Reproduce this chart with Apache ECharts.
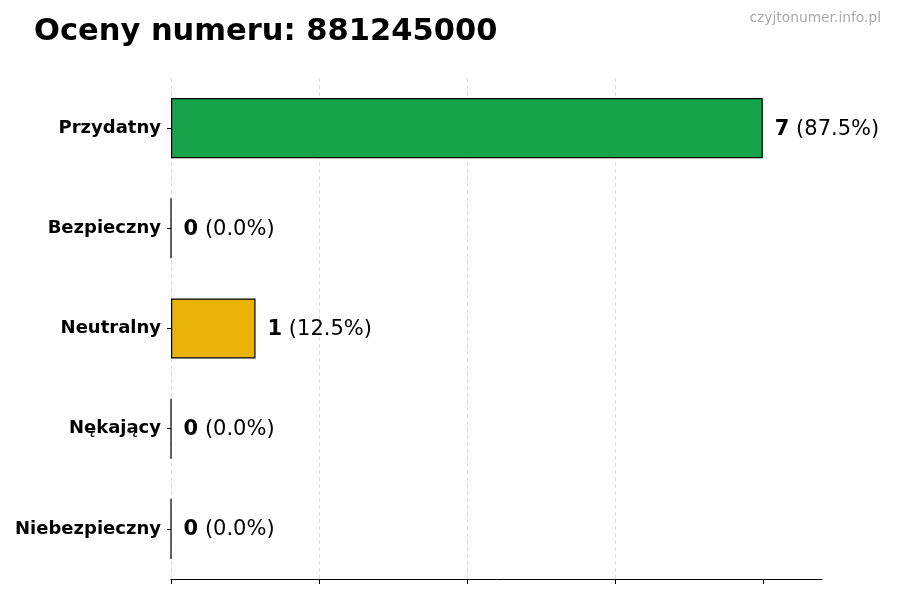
<!DOCTYPE html>
<html>
<head>
<meta charset="utf-8">
<title>Oceny numeru</title>
<script src="https://cdn.jsdelivr.net/npm/echarts@6/dist/echarts.min.js"></script>
<style>
body{margin:0;background:#fff;}
#main{width:900px;height:600px;}
</style>
</head>
<body>
<div id="main"></div>
<script type="text/javascript">
// dane z wykresu
var categories = ['Przydatny', 'Bezpieczny', 'Neutralny', 'Nękający', 'Niebezpieczny'];
var counts = [7, 0, 1, 0, 0];
var barColors = ['#17a34a', '#9ca3af', '#eab308', '#f97316', '#dc2626'];
var xTicks = [0, 1.75, 3.5, 5.25, 7];

var total = counts.reduce(function(a, b){ return a + b; }, 0);

var chart = echarts.init(document.getElementById('main'));

var option = {
    backgroundColor: '#fff',
    animation: false,
    title: {
        text: 'Oceny numeru: 881245000',
        left: 29,
        top: 12,
        textStyle: {
            fontFamily: 'DejaVu Sans',
            fontWeight: 'bold',
            fontSize: 30.5,
            color: '#000'
        }
    },
    graphic: [{
        type: 'text',
        right: 19,
        top: 11,
        style: {
            text: 'czyjtonumer.info.pl',
            fontFamily: 'DejaVu Sans',
            fontSize: 13.8,
            fill: '#aaaaaa'
        }
    }],
    grid: {
        left: 171,
        right: 78,
        top: 78,
        bottom: 21,
        containLabel: false
    },
    xAxis: {
        type: 'value',
        min: 0,
        max: 7.7,
        interval: 1.75,
        axisLine: {show: true, lineStyle: {color: '#000', width: 1}},
        axisTick: {show: true, length: 5, lineStyle: {color: '#000'}, customValues: xTicks},
        axisLabel: {show: false},
        splitLine: {
            show: true,
            showMaxLine: false,
            lineStyle: {color: '#d4d4d4', type: [4, 3], width: 0.8}
        }
    },
    yAxis: {
        type: 'category',
        inverse: true,
        data: categories,
        axisLine: {show: false},
        axisTick: {show: true, alignWithLabel: true, length: 4, lineStyle: {color: '#000'}},
        axisLabel: {
            margin: 10,
            padding: [4, 0, 0, 0],
            fontFamily: 'DejaVu Sans',
            fontWeight: 'bold',
            fontSize: 18,
            color: '#000'
        }
    },
    series: [{
        type: 'bar',
        barWidth: '60%',
        data: counts.map(function(v, i){
            return {value: v, itemStyle: {color: barColors[i]}};
        }),
        itemStyle: {borderColor: '#000', borderWidth: 1.2},
        label: {
            show: true,
            position: 'right',
            distance: 12,
            padding: [2, 0, 0, 0],
            formatter: function(p){
                var pct = (total ? p.value / total * 100 : 0).toFixed(1);
                return '{b|' + p.value + '}{n| (' + pct + '%)}';
            },
            rich: {
                b: {fontFamily: 'DejaVu Sans', fontWeight: 'bold', fontSize: 21, color: '#000'},
                n: {fontFamily: 'DejaVu Sans', fontSize: 21, color: '#000'}
            }
        }
    }]
};

chart.setOption(option);
</script>
</body>
</html>
